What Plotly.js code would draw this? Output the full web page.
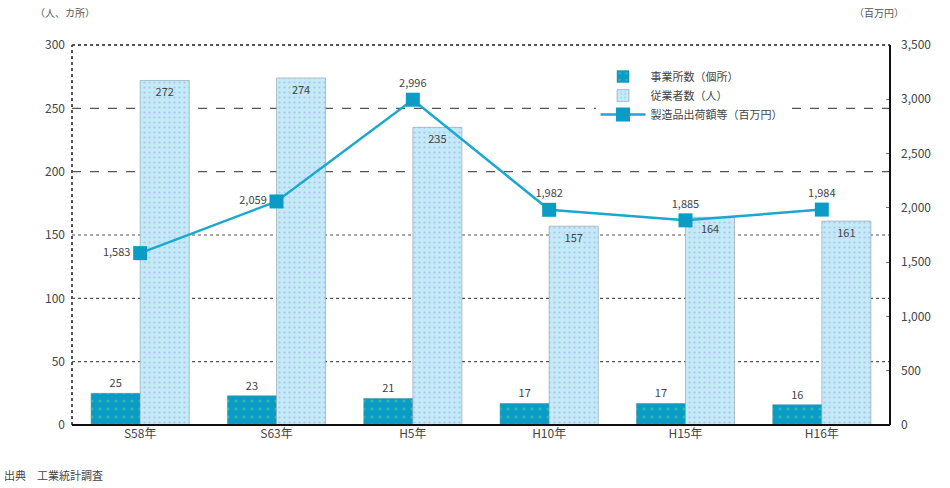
<!DOCTYPE html>
<html>
<head>
<meta charset="utf-8">
<script src="https://cdn.plot.ly/plotly-3.0.1.min.js"></script>
<style>html,body{margin:0;padding:0;background:#fff;}#chart{width:950px;height:488px;}</style>
</head>
<body>
<div id="chart"></div>
<script>
const categories = ['S58年', 'S63年', 'H5年', 'H10年', 'H15年', 'H16年'];
const establishments = [25, 23, 21, 17, 17, 16];
const employees = [272, 274, 235, 157, 164, 161];
const shipments = [1583, 2059, 2996, 1982, 1885, 1984];
const shipmentLabelPos = ['middle left', 'middle left', 'top center', 'top center', 'top center', 'top center'];

const FONT = '"Noto Sans CJK JP", "Noto Sans", sans-serif';
const fmt = v => v.toLocaleString('en-US');

const traces = [
  {
    type: 'bar', name: '事業所数（個所）', x: categories, y: establishments,
    text: establishments.map(String), textposition: 'outside', cliponaxis: false,
    textfont: {size: 11, color: '#444', family: FONT},
    marker: {color: '#0a9cc4', line: {color: '#3a8aa0', width: 0.5},
      pattern: {shape: '.', fgcolor: '#2fb8b4', bgcolor: '#0a9cc4', size: 8, solidity: 0.12}},
    yaxis: 'y', hoverinfo: 'skip'
  },
  {
    type: 'bar', name: '従業者数（人）', x: categories, y: employees,
    text: employees.map(String), textposition: 'inside', insidetextanchor: 'end',
    textfont: {size: 11, color: '#444', family: FONT}, textangle: 0,
    marker: {color: '#c2ebf7', line: {color: '#8aa0a8', width: 0.6},
      pattern: {shape: '.', fgcolor: '#b4c0ee', bgcolor: '#c2ebf7', size: 5, solidity: 0.15}},
    yaxis: 'y', hoverinfo: 'skip'
  },
  {
    type: 'scatter', mode: 'lines+markers+text', name: '製造品出荷額等（百万円）',
    x: categories, y: shipments, text: shipments.map(fmt), textposition: shipmentLabelPos,
    textfont: {size: 11, color: '#444', family: FONT}, cliponaxis: false,
    line: {color: '#1aa8d0', width: 2.5},
    marker: {symbol: 'square', size: 14, color: '#0a9cc4'},
    yaxis: 'y2', hoverinfo: 'skip'
  }
];

const shapes = [];
[50, 100, 150].forEach(v => shapes.push({type: 'line', xref: 'paper', yref: 'y', x0: 0, x1: 1, y0: v, y1: v,
  line: {color: '#555', width: 1.2, dash: 'dot'}, layer: 'below'}));
[200, 250].forEach(v => shapes.push({type: 'line', xref: 'paper', yref: 'y', x0: 0, x1: 1, y0: v, y1: v,
  line: {color: '#555', width: 1.2, dash: 'dash'}, layer: 'below'}));
shapes.push({type: 'line', xref: 'paper', yref: 'paper', x0: 0, x1: 1, y0: 1, y1: 1, line: {color: '#555', width: 2, dash: 'dot'}});
shapes.push({type: 'line', xref: 'paper', yref: 'paper', x0: 0, x1: 0, y0: 0, y1: 1, line: {color: '#555', width: 2, dash: 'dot'}});
shapes.push({type: 'line', xref: 'paper', yref: 'paper', x0: 1, x1: 1, y0: 0, y1: 1, line: {color: '#111', width: 2}});
shapes.push({type: 'line', xref: 'paper', yref: 'paper', x0: 0, x1: 1, y0: 0, y1: 0, line: {color: '#111', width: 2}});

const layout = {
  width: 950, height: 488,
  margin: {l: 72, r: 60, t: 45, b: 63},
  paper_bgcolor: '#fff', plot_bgcolor: '#fff',
  font: {family: FONT, size: 11, color: '#444'},
  barmode: 'group', bargap: 0.28, bargroupgap: 0,
  showlegend: true,
  legend: {x: 0.64, y: 0.955, xanchor: 'left', yanchor: 'top', bgcolor: '#fff',
    font: {size: 11, color: '#444', family: FONT}, tracegroupgap: 0, itemwidth: 45},
  xaxis: {type: 'category', showgrid: false, zeroline: false, showline: false, ticks: '',
    tickfont: {size: 12, color: '#444'}},
  yaxis: {range: [0, 300], dtick: 50, showgrid: false, zeroline: false, showline: false,
    ticks: '', tickfont: {size: 12, color: '#444'}, ticklabelstandoff: 6},
  yaxis2: {range: [0, 3500], dtick: 500, overlaying: 'y', side: 'right', showgrid: false,
    zeroline: false, showline: false, ticks: 'inside', ticklen: 4, tickcolor: '#777',
    tickformat: ',', tickfont: {size: 12, color: '#444'}, ticklabelstandoff: 10},
  shapes: shapes,
  annotations: [
    {text: '（人、カ所）', xref: 'paper', yref: 'paper', x: -0.048, y: 1.06, xanchor: 'left', yanchor: 'bottom',
      showarrow: false, font: {size: 10, color: '#555'}},
    {text: '（百万円）', xref: 'paper', yref: 'paper', x: 1.02, y: 1.06, xanchor: 'right', yanchor: 'bottom',
      showarrow: false, font: {size: 10, color: '#555'}},
    {text: '出典　工業統計調査', xref: 'paper', yref: 'paper', x: -0.085, y: -0.105, xanchor: 'left', yanchor: 'top',
      showarrow: false, font: {size: 11, color: '#444'}}
  ]
};

Plotly.newPlot('chart', traces, layout, {displayModeBar: false, staticPlot: true});
</script>
</body>
</html>
